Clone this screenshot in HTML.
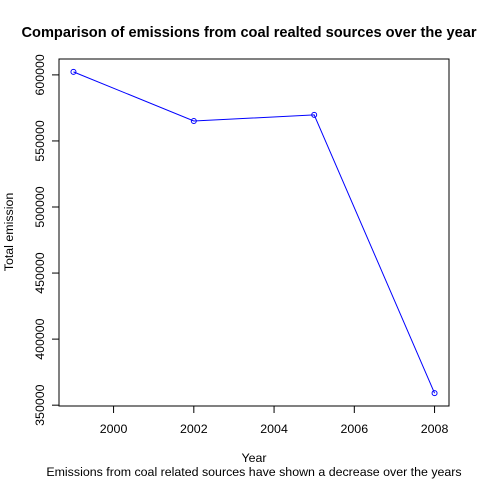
<!DOCTYPE html>
<html><head><meta charset="utf-8"><style>
body{margin:0;background:#fff}
svg text{font-family:"Liberation Sans",Arial,sans-serif;fill:#000}
</style></head><body>
<svg width="480" height="480" id="chart">
<text x="249" y="37" font-size="14.6" font-weight="bold" text-anchor="middle">Comparison of emissions from coal realted sources over the year</text>
<rect x="59" y="59" width="390" height="347" fill="none" stroke="#000" stroke-width="1"/>
<text x="254" y="462" font-size="12.4" text-anchor="middle">Year</text>
<text x="254" y="476" font-size="12.4" text-anchor="middle">Emissions from coal related sources have shown a decrease over the years</text>
<text transform="translate(13,232) rotate(-90)" font-size="12.4" text-anchor="middle">Total emission</text>
<g id="axes"></g>
<g id="series"></g>
</svg>
<script>
const years=[1999,2002,2005,2008];
const emissions=[602300,565100,569700,359100];
const xTicks=[2000,2002,2004,2006,2008];
const yTicks=[350000,400000,450000,500000,550000,600000];
const L=59,R=449,T=59,B=406;
const xmin=Math.min(...years),xmax=Math.max(...years),xp=(xmax-xmin)*0.04;
const ymin=Math.min(...emissions),ymax=Math.max(...emissions),yp=(ymax-ymin)*0.04;
const sx=v=>L+(v-(xmin-xp))/((xmax+xp)-(xmin-xp))*(R-L);
const sy=v=>B-(v-(ymin-yp))/((ymax+yp)-(ymin-yp))*(B-T);
const NS="http://www.w3.org/2000/svg";
const ax=document.getElementById('axes'),se=document.getElementById('series');
function mk(tag,at,par){const e=document.createElementNS(NS,tag);for(const k in at)e.setAttribute(k,at[k]);par.appendChild(e);return e;}
mk('line',{x1:sx(xTicks[0]),x2:sx(xTicks[xTicks.length-1]),y1:B,y2:B,stroke:'#000'},ax);
xTicks.forEach(t=>{const x=sx(t);
 const l=mk('line',{x1:x,x2:x,y1:B,y2:B+7,stroke:'#000'},ax);
 
 
 const tx=mk('text',{x:x,y:B+27,'font-size':12.4,'text-anchor':'middle'},ax);tx.textContent=t;
 
 
});
mk('line',{x1:L,x2:L,y1:sy(yTicks[0]),y2:sy(yTicks[yTicks.length-1]),stroke:'#000'},ax);
yTicks.forEach(t=>{const y=sy(t);
 const l=mk('line',{x1:L-7,x2:L,y1:y,y2:y,stroke:'#000'},ax);
 
 
 const tx=mk('text',{transform:`translate(${L-15},${y}) rotate(-90)`,'font-size':12.4,'text-anchor':'middle'},ax);tx.textContent=t;
 
 
});
const pl=mk('polyline',{points:years.map((y,i)=>sx(y)+','+sy(emissions[i])).join(' '),fill:'none',stroke:'#0000ff','stroke-width':1},se);


years.forEach((y,i)=>{const c=mk('circle',{cx:sx(y),cy:sy(emissions[i]),r:2.5,fill:'none',stroke:'#0000ff'},se);
 
 
});
</script>
</body></html>
